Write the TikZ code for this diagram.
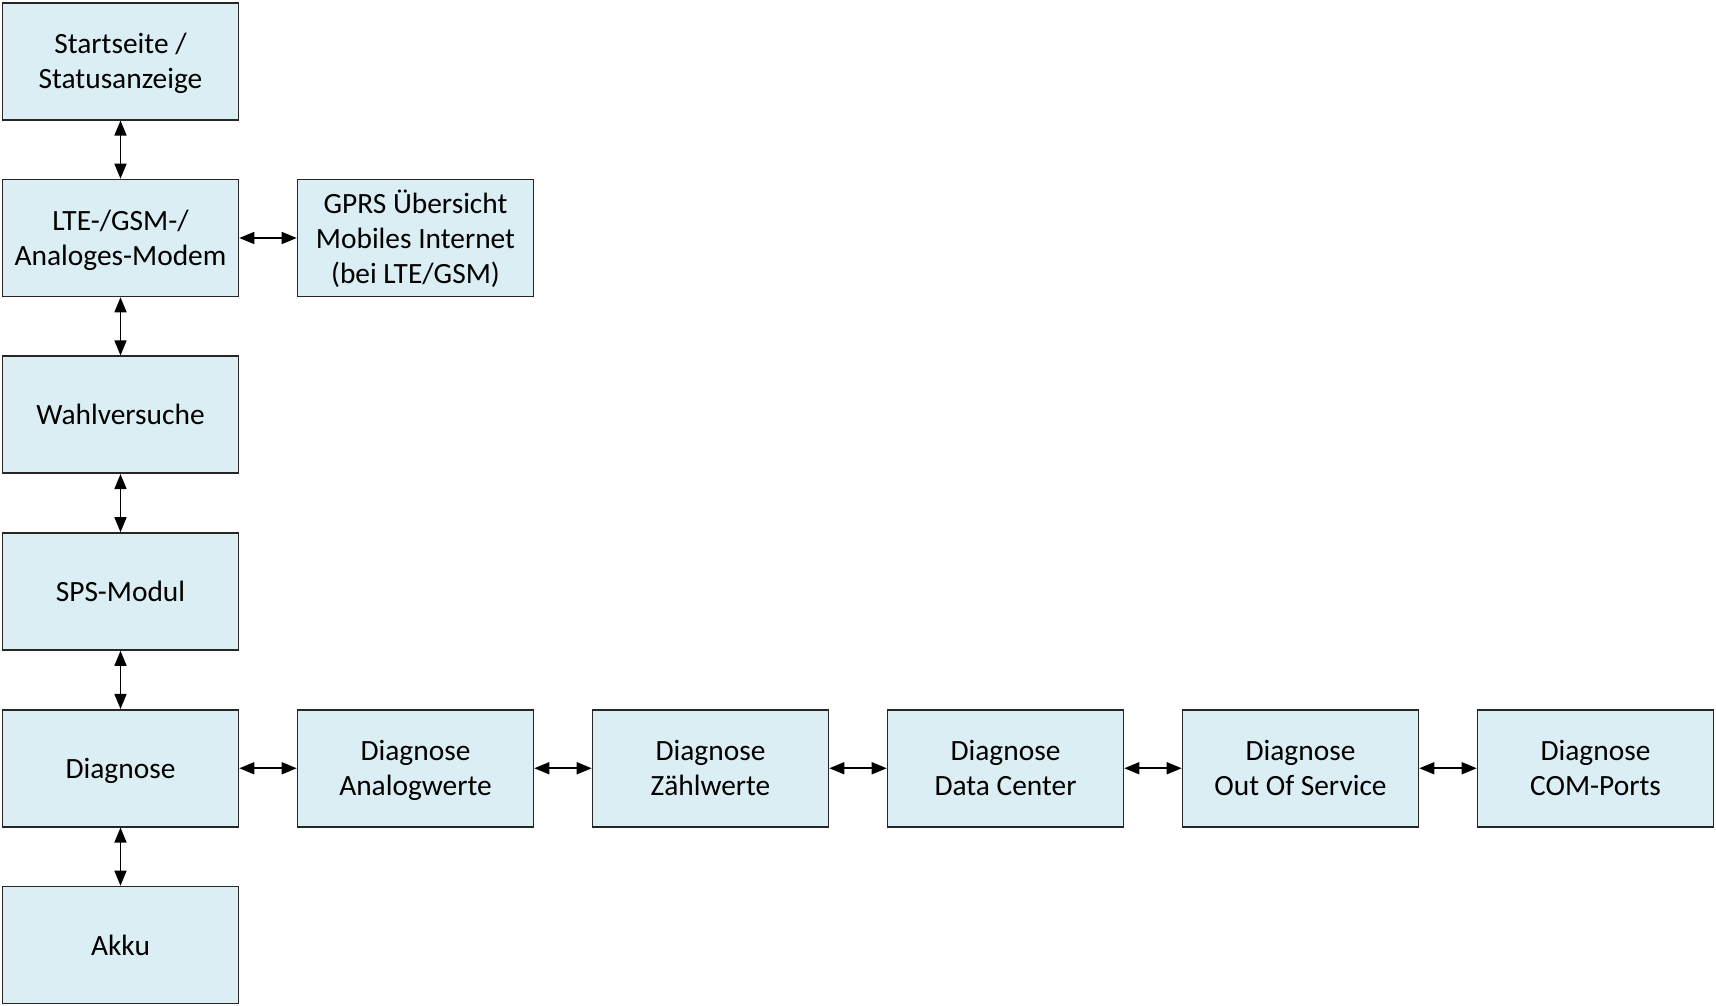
\documentclass[tikz,border=0pt]{standalone}
\usepackage{fontspec}
\setmainfont{Carlito}
\usetikzlibrary{arrows.meta}
\definecolor{boxfill}{HTML}{DAEEF3}
\definecolor{boxline}{HTML}{262626}
\newcommand{\boxstrut}{\rule[-7.5pt]{0pt}{35pt}}
\tikzset{
  box/.style={draw=boxline, line width=1.6pt, fill=boxfill, rectangle,
    minimum width=236pt, minimum height=117pt, inner sep=0pt, align=center,
    font=\fontsize{29.4}{35}\selectfont},
  link/.style={line width=1.6pt, {Triangle[length=15pt,width=12pt]}-{Triangle[length=15pt,width=12pt]}}
}
\begin{document}
\begin{tikzpicture}[x=1pt,y=-1pt]
\useasboundingbox (0,0) rectangle (1716,1006);
\node[box] (start) at (120.5,61.25) {\boxstrut Startseite /\\\boxstrut Statusanzeige};
\node[box] (modem) at (120.5,238) {\boxstrut LTE-/GSM-/\\\boxstrut Analoges-Modem};
\node[box] (gprs) at (415.5,238) {\boxstrut GPRS Übersicht\\\boxstrut Mobiles Internet\\\boxstrut (bei LTE/GSM)};
\node[box] (wahl) at (120.5,414.75) {\boxstrut Wahlversuche};
\node[box] (sps) at (120.5,591.5) {\boxstrut SPS-Modul};
\node[box] (diag) at (120.5,768.25) {\boxstrut Diagnose};
\node[box] (akku) at (120.5,945) {\boxstrut Akku};
\node[box] (ana) at (415.5,768.25) {\boxstrut Diagnose\\\boxstrut Analogwerte};
\node[box] (zaehl) at (710.5,768.25) {\boxstrut Diagnose\\\boxstrut Zählwerte};
\node[box] (dc) at (1005.5,768.25) {\boxstrut Diagnose\\\boxstrut Data Center};
\node[box] (oos) at (1300.5,768.25) {\boxstrut Diagnose\\\boxstrut Out Of Service};
\node[box] (com) at (1595.5,768.25) {\boxstrut Diagnose\\\boxstrut COM-Ports};
\draw[link] (start) -- (modem);
\draw[link] (modem) -- (wahl);
\draw[link] (wahl) -- (sps);
\draw[link] (sps) -- (diag);
\draw[link] (diag) -- (akku);
\draw[link] (modem) -- (gprs);
\draw[link] (diag) -- (ana);
\draw[link] (ana) -- (zaehl);
\draw[link] (zaehl) -- (dc);
\draw[link] (dc) -- (oos);
\draw[link] (oos) -- (com);
\end{tikzpicture}
\end{document}
